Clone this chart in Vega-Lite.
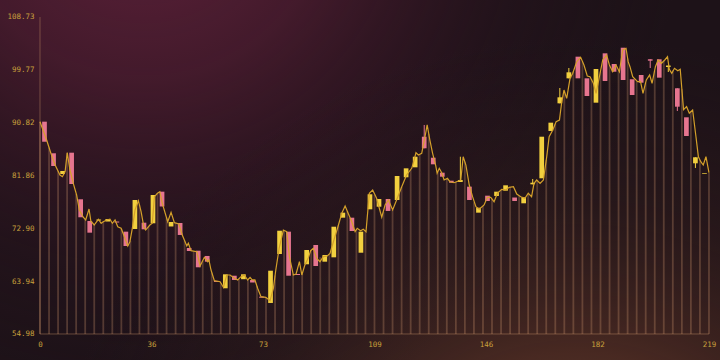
{
  "$schema": "https://vega.github.io/schema/vega-lite/v6.json",
  "width": 720,
  "height": 360,
  "padding": 0,
  "autosize": {"type": "none"},
  "background": "#1d1218",
  "config": {
    "view": {"stroke": null},
    "axis": {"labelColor": "#c8a03c", "labelFont": "DejaVu Sans Mono", "labelFontSize": 7.5, "domain": false, "ticks": false, "grid": false, "labelFlush": false, "labelOverlap": false, "labelPadding": 6, "zindex": 5}
  },
  "datasets": {
    "line": [
      {"i":0,"v":90.98},{"i":2.2,"v":87.87},{"i":3.6,"v":85.62},{"i":5.0,"v":83.63},{"i":6.6,"v":81.94},{"i":7.4,"v":81.65},{"i":8.3,"v":82.5},{"i":9.0,"v":85.72},{"i":9.9,"v":82.79},{"i":11.0,"v":80.53},{"i":12.1,"v":78.55},{"i":13.0,"v":76.0},{"i":14.3,"v":74.77},{"i":15.1,"v":74.31},{"i":16.2,"v":76.17},{"i":16.8,"v":74.14},{"i":17.9,"v":73.46},{"i":19.3,"v":74.43},{"i":20.2,"v":73.75},{"i":20.9,"v":74.02},{"i":22.0,"v":74.31},{"i":23.1,"v":74.43},{"i":23.9,"v":73.75},{"i":24.8,"v":74.31},{"i":25.7,"v":73.17},{"i":26.8,"v":72.9},{"i":27.8,"v":71.6},{"i":29.0,"v":69.9},{"i":29.7,"v":70.63},{"i":30.5,"v":72.9},{"i":31.4,"v":76.0},{"i":32.5,"v":77.58},{"i":33.4,"v":75.72},{"i":34.3,"v":73.17},{"i":34.9,"v":72.61},{"i":36.3,"v":73.46},{"i":37.1,"v":73.75},{"i":37.8,"v":78.26},{"i":38.8,"v":78.84},{"i":39.6,"v":79.11},{"i":40.4,"v":77.14},{"i":42.2,"v":74.02},{"i":43.3,"v":75.61},{"i":44.4,"v":73.85},{"i":45.9,"v":73.63},{"i":47.0,"v":71.77},{"i":48.5,"v":69.9},{"i":49.0,"v":70.36},{"i":49.9,"v":69.1},{"i":51.8,"v":68.93},{"i":52.9,"v":66.51},{"i":54.3,"v":67.98},{"i":55.4,"v":67.24},{"i":55.8,"v":67.53},{"i":56.5,"v":65.83},{"i":57.6,"v":64.02},{"i":59.5,"v":63.85},{"i":60.6,"v":62.9},{"i":61.7,"v":64.98},{"i":62.8,"v":64.98},{"i":64.2,"v":64.42},{"i":65.3,"v":64.14},{"i":66.4,"v":64.7},{"i":67.5,"v":64.98},{"i":68.6,"v":64.14},{"i":69.4,"v":64.59},{"i":70.1,"v":64.14},{"i":71.0,"v":64.14},{"i":71.9,"v":62.73},{"i":73.0,"v":61.3},{"i":74.6,"v":61.2},{"i":76.0,"v":60.63},{"i":77.1,"v":62.73},{"i":77.9,"v":65.83},{"i":79.0,"v":69.51},{"i":80.4,"v":72.61},{"i":81.5,"v":72.33},{"i":82.4,"v":68.09},{"i":83.7,"v":64.98},{"i":84.6,"v":65.15},{"i":85.7,"v":67.24},{"i":86.5,"v":64.98},{"i":87.5,"v":66.68},{"i":88.6,"v":67.81},{"i":89.4,"v":69.1},{"i":90.3,"v":69.51},{"i":91.4,"v":67.81},{"i":92.5,"v":67.24},{"i":93.6,"v":68.09},{"i":94.9,"v":68.2},{"i":95.8,"v":68.66},{"i":97.1,"v":70.92},{"i":98.5,"v":73.29},{"i":99.7,"v":75.44},{"i":100.8,"v":76.68},{"i":101.8,"v":75.44},{"i":103.0,"v":74.02},{"i":104.1,"v":72.33},{"i":104.8,"v":72.9},{"i":105.9,"v":72.49},{"i":106.8,"v":72.73},{"i":107.7,"v":72.33},{"i":108.8,"v":78.84},{"i":109.9,"v":79.4},{"i":111.2,"v":77.99},{"i":112.9,"v":74.77},{"i":114.0,"v":76.85},{"i":115.1,"v":77.7},{"i":116.5,"v":76.0},{"i":117.8,"v":77.7},{"i":119.5,"v":79.95},{"i":121.1,"v":81.94},{"i":122.8,"v":83.07},{"i":123.6,"v":84.48},{"i":124.2,"v":85.72},{"i":125.0,"v":85.33},{"i":126.1,"v":85.62},{"i":127.2,"v":88.43},{"i":127.9,"v":90.42},{"i":128.8,"v":87.87},{"i":129.7,"v":85.62},{"i":130.7,"v":83.63},{"i":131.2,"v":82.23},{"i":131.9,"v":83.07},{"i":132.7,"v":82.33},{"i":133.5,"v":81.09},{"i":134.6,"v":81.38},{"i":135.4,"v":80.8},{"i":136.8,"v":80.63},{"i":137.6,"v":80.8},{"i":139.0,"v":81.09},{"i":139.8,"v":85.04},{"i":140.7,"v":83.63},{"i":141.8,"v":80.24},{"i":142.9,"v":78.26},{"i":144.0,"v":76.56},{"i":145.1,"v":76.12},{"i":146.7,"v":76.85},{"i":147.8,"v":78.16},{"i":148.9,"v":78.16},{"i":150.0,"v":77.41},{"i":151.1,"v":78.84},{"i":152.5,"v":79.51},{"i":153.9,"v":79.4},{"i":155.0,"v":79.85},{"i":156.4,"v":79.95},{"i":157.5,"v":78.72},{"i":158.8,"v":78.26},{"i":160.2,"v":77.99},{"i":161.3,"v":78.84},{"i":162.4,"v":78.26},{"i":163.2,"v":80.53},{"i":164.1,"v":81.09},{"i":165.2,"v":80.53},{"i":166.3,"v":81.09},{"i":167.4,"v":85.04},{"i":168.2,"v":88.43},{"i":169.4,"v":89.57},{"i":170.5,"v":90.98},{"i":171.6,"v":91.26},{"i":172.3,"v":94.1},{"i":173.1,"v":96.35},{"i":174.0,"v":94.94},{"i":175.1,"v":98.33},{"i":176.0,"v":99.18},{"i":177.3,"v":101.15},{"i":178.6,"v":101.89},{"i":179.7,"v":100.59},{"i":180.8,"v":98.72},{"i":181.7,"v":98.61},{"i":182.8,"v":97.49},{"i":183.7,"v":95.79},{"i":184.8,"v":98.61},{"i":185.9,"v":101.44},{"i":187.2,"v":102.28},{"i":188.1,"v":100.59},{"i":189.2,"v":99.45},{"i":190.3,"v":100.59},{"i":191.4,"v":99.45},{"i":192.5,"v":103.13},{"i":193.6,"v":103.42},{"i":194.3,"v":101.15},{"i":194.9,"v":100.3},{"i":195.8,"v":98.61},{"i":197.4,"v":97.76},{"i":198.4,"v":97.76},{"i":199.2,"v":95.79},{"i":200.3,"v":98.05},{"i":201.4,"v":98.89},{"i":202.2,"v":97.49},{"i":203.3,"v":100.3},{"i":204.2,"v":101.44},{"i":205.3,"v":100.88},{"i":206.4,"v":101.44},{"i":207.3,"v":102.0},{"i":207.9,"v":99.86},{"i":208.7,"v":99.18},{"i":209.6,"v":100.03},{"i":210.7,"v":99.62},{"i":211.5,"v":99.86},{"i":212.6,"v":93.0},{"i":213.6,"v":93.52},{"i":214.5,"v":92.4},{"i":215.6,"v":92.96},{"i":216.7,"v":88.43},{"i":217.5,"v":85.04},{"i":218.3,"v":84.19},{"i":219.1,"v":83.63},{"i":220.0,"v":85.04},{"i":221.0,"v":82.33}
    ],
    "candles": [
      {"x":1.49,"o":90.98,"c":87.58},{"x":4.48,"o":85.62,"c":83.46},{"x":7.47,"o":82.11,"c":82.62},{"x":10.45,"o":85.72,"c":80.41},{"x":13.44,"o":77.82,"c":74.77},{"x":16.43,"o":74.14,"c":72.16},{"x":19.41,"o":74.22,"c":74.39},{"x":22.4,"o":74.05,"c":74.48},{"x":25.39,"o":74.05,"c":73.88},{"x":28.37,"o":72.33,"c":69.9},{"x":31.36,"o":72.78,"c":77.7},{"x":34.35,"o":73.85,"c":72.73},{"x":37.33,"o":73.75,"c":78.55},{"x":40.32,"o":79.11,"c":76.6},{"x":43.3,"o":73.21,"c":73.97},{"x":46.29,"o":73.8,"c":71.77},{"x":49.28,"o":69.56,"c":69.05},{"x":52.26,"o":69.1,"c":66.29},{"x":55.25,"o":68.21,"c":67.24},{"x":58.24,"o":63.97,"c":63.8},{"x":61.22,"o":62.73,"c":65.1},{"x":64.21,"o":64.86,"c":64.14},{"x":67.2,"o":64.27,"c":65.1},{"x":70.18,"o":64.14,"c":63.71},{"x":73.17,"o":61.3,"c":61.13},{"x":76.16,"o":60.24,"c":65.71},{"x":79.14,"o":68.54,"c":72.49},{"x":82.13,"o":72.33,"c":64.86},{"x":85.12,"o":65.15,"c":64.98},{"x":88.1,"o":66.8,"c":69.22},{"x":91.09,"o":70.07,"c":66.51},{"x":94.08,"o":67.24,"c":68.37},{"x":97.06,"o":67.98,"c":73.17},{"x":100.05,"o":74.7,"c":75.55},{"x":103.04,"o":74.7,"c":72.44},{"x":106.02,"o":68.76,"c":72.33},{"x":109.01,"o":76.12,"c":78.67},{"x":111.99,"o":76.56,"c":77.87},{"x":114.98,"o":77.87,"c":75.84},{"x":117.97,"o":77.7,"c":81.77},{"x":120.95,"o":81.55,"c":83.07},{"x":123.94,"o":83.24,"c":85.04},{"x":126.93,"o":88.43,"c":86.47,"l":86.47,"h":90.42},{"x":129.91,"o":84.87,"c":83.75},{"x":132.9,"o":82.33,"c":81.65},{"x":135.89,"o":80.97,"c":80.63},{"x":138.87,"o":80.75,"c":81.09,"l":80.75,"h":85.04},{"x":141.86,"o":79.96,"c":77.7},{"x":144.85,"o":75.55,"c":76.39},{"x":147.83,"o":78.43,"c":77.53},{"x":150.82,"o":78.38,"c":79.11},{"x":153.81,"o":79.28,"c":80.19},{"x":156.79,"o":78.12,"c":77.53},{"x":159.78,"o":77.14,"c":78.16},{"x":162.77,"o":80.36,"c":80.63,"l":80.36,"h":81.26},{"x":165.75,"o":81.38,"c":88.43},{"x":168.74,"o":89.4,"c":90.81},{"x":171.73,"o":94.09,"c":95.11,"l":94.09,"h":96.69},{"x":174.71,"o":98.33,"c":99.35,"l":98.33,"h":100.08},{"x":177.7,"o":102.0,"c":98.33},{"x":180.68,"o":98.33,"c":95.33},{"x":183.67,"o":94.2,"c":99.91},{"x":186.66,"o":102.57,"c":97.88},{"x":189.64,"o":100.76,"c":99.45},{"x":192.63,"o":103.52,"c":98.05},{"x":195.62,"o":98.17,"c":95.5},{"x":198.6,"o":98.89,"c":97.59},{"x":201.59,"o":101.56,"c":101.32,"l":100.08,"h":101.56},{"x":204.58,"o":101.56,"c":98.44},{"x":207.56,"o":100.25,"c":100.5,"l":99.4,"h":100.5},{"x":210.55,"o":96.64,"c":93.52,"l":92.79,"h":96.64},{"x":213.54,"o":91.72,"c":88.55},{"x":216.52,"o":83.92,"c":84.94,"l":83.13,"h":84.94},{"x":219.51,"o":82.11,"c":82.23}
    ],
    "bars": [
      {"x":0,"t":90.98},{"x":2.99,"t":86.6},{"x":5.97,"t":82.6},{"x":8.96,"t":85.72},{"x":11.95,"t":78.7},{"x":14.93,"t":74.4},{"x":17.92,"t":73.46},{"x":20.91,"t":74.02},{"x":23.89,"t":73.75},{"x":26.88,"t":72.85},{"x":29.87,"t":70.8},{"x":32.85,"t":76.9},{"x":35.84,"t":73.2},{"x":38.82,"t":78.84},{"x":41.81,"t":74.7},{"x":44.8,"t":73.8},{"x":47.78,"t":70.8},{"x":50.77,"t":69.0},{"x":53.76,"t":67.4},{"x":56.74,"t":65.4},{"x":59.73,"t":63.6},{"x":62.72,"t":64.98},{"x":65.7,"t":64.3},{"x":68.69,"t":64.2},{"x":71.68,"t":63.1},{"x":74.66,"t":61.2},{"x":77.65,"t":64.9},{"x":80.64,"t":72.5},{"x":83.62,"t":65.2},{"x":86.61,"t":65.2},{"x":89.59,"t":69.2},{"x":92.58,"t":68.0},{"x":95.57,"t":68.5},{"x":98.55,"t":73.4},{"x":101.54,"t":75.8},{"x":104.53,"t":72.7},{"x":107.51,"t":72.4},{"x":110.5,"t":78.6},{"x":113.49,"t":75.7},{"x":116.47,"t":76.0},{"x":119.46,"t":79.9},{"x":122.45,"t":82.8},{"x":125.43,"t":85.4},{"x":128.42,"t":88.9},{"x":131.4,"t":82.6},{"x":134.39,"t":81.3},{"x":137.38,"t":80.75},{"x":140.36,"t":84.2},{"x":143.35,"t":77.3},{"x":146.34,"t":76.7},{"x":149.32,"t":77.9},{"x":152.31,"t":79.4},{"x":155.3,"t":79.9},{"x":158.28,"t":78.4},{"x":161.27,"t":78.7},{"x":164.25,"t":81.0},{"x":167.24,"t":84.5},{"x":170.23,"t":90.6},{"x":173.21,"t":96.2},{"x":176.2,"t":99.5},{"x":179.19,"t":101.2},{"x":182.17,"t":98.2},{"x":185.16,"t":99.5},{"x":188.15,"t":100.5},{"x":191.13,"t":99.7},{"x":194.12,"t":101.7},{"x":197.11,"t":97.8},{"x":200.09,"t":97.6},{"x":203.08,"t":99.6},{"x":206.06,"t":101.3},{"x":209.05,"t":99.7},{"x":212.04,"t":96.5},{"x":215.02,"t":92.8},{"x":218.01,"t":84.5},{"x":221.0,"t":82.33}
    ]
  },
  "layer": [
    {
      "data": {"values": [{"a": 1}]},
      "mark": {"type": "rect", "fill": {"gradient": "radial", "x1": 0.2, "y1": 0.1, "r1": 0, "x2": 0.2, "y2": 0.1, "r2": 0.75, "stops": [{"offset": 0, "color": "rgba(98,34,60,1)"}, {"offset": 0.35, "color": "rgba(76,28,48,0.8)"}, {"offset": 0.7, "color": "rgba(44,20,32,0.35)"}, {"offset": 1, "color": "rgba(29,18,24,0)"}]}, "strokeWidth": 0},
      "encoding": {
        "x": {"datum": -13.21, "type": "quantitative", "scale": {"domain": [-13.21, 224.64], "nice": false, "zero": false, "padding": 0}, "axis": {"title": null}},
        "x2": {"datum": 224.64},
        "y": {"datum": 50.57, "type": "quantitative", "scale": {"domain": [50.57, 111.61], "nice": false, "zero": false, "padding": 0}, "axis": {"title": null}},
        "y2": {"datum": 111.61}
      }
    },
    {
      "data": {"values": [{"a": 1}]},
      "mark": {"type": "rect", "fill": {"gradient": "radial", "x1": 0.8, "y1": 1.05, "r1": 0, "x2": 0.8, "y2": 1.05, "r2": 0.75, "stops": [{"offset": 0, "color": "rgba(130,74,48,1)"}, {"offset": 0.35, "color": "rgba(100,56,40,0.75)"}, {"offset": 0.7, "color": "rgba(60,34,30,0.3)"}, {"offset": 1, "color": "rgba(40,22,26,0)"}]}, "strokeWidth": 0},
      "encoding": {
        "x": {"datum": -13.21, "type": "quantitative", "axis": {"title": null}},
        "x2": {"datum": 224.64},
        "y": {"datum": 50.57, "type": "quantitative", "axis": {"title": null}},
        "y2": {"datum": 111.61}
      }
    },
    {
      "data": {"name": "bars"},
      "mark": {"type": "rule", "color": "rgba(205,150,108,0.3)", "strokeWidth": 1.8},
      "encoding": {
        "x": {"field": "x", "type": "quantitative", "axis": {"title": null}},
        "y": {"field": "t", "type": "quantitative", "axis": {"title": null}},
        "y2": {"datum": 54.98}
      }
    },
    {
      "data": {"values": [{"a": 1}]},
      "mark": {"type": "rule", "color": "rgba(190,140,100,0.45)", "strokeWidth": 1},
      "encoding": {
        "x": {"datum": 0, "type": "quantitative", "axis": {"title": null}},
        "y": {"datum": 54.98, "type": "quantitative", "axis": {"title": null}},
        "y2": {"datum": 108.73}
      }
    },
    {
      "data": {"values": [{"a": 1}]},
      "mark": {"type": "rule", "color": "rgba(190,140,100,0.45)", "strokeWidth": 1},
      "encoding": {
        "x": {"datum": 0, "type": "quantitative", "axis": {"title": null}},
        "x2": {"datum": 221},
        "y": {"datum": 54.98, "type": "quantitative", "axis": {"title": null}}
      }
    },
    {
      "data": {"name": "candles"},
      "transform": [{"filter": "isValid(datum.h)"}],
      "mark": {"type": "rule", "strokeWidth": 1},
      "encoding": {
        "x": {"field": "x", "type": "quantitative", "axis": {"title": null}},
        "y": {"field": "l", "type": "quantitative", "axis": {"title": null}},
        "y2": {"field": "h"},
        "color": {"condition": {"test": "datum.c >= datum.o", "value": "#f2d03f"}, "value": "#e6758f"}
      }
    },
    {
      "data": {"name": "candles"},
      "mark": {"type": "bar", "orient": "vertical", "width": 4.7},
      "encoding": {
        "x": {"field": "x", "type": "quantitative", "axis": {"title": null}},
        "y": {"field": "o", "type": "quantitative", "axis": {"title": null}},
        "y2": {"field": "c"},
        "color": {"condition": {"test": "datum.c >= datum.o", "value": "#f2d03f"}, "value": "#e6758f"}
      }
    },
    {
      "data": {"name": "line"},
      "mark": {"type": "line", "color": "#d4a02a", "strokeWidth": 1.2},
      "encoding": {
        "x": {"field": "i", "type": "quantitative", "scale": {"domain": [-13.21, 224.64], "nice": false, "zero": false, "padding": 0}, "axis": {"orient": "bottom", "offset": -26, "zindex": 5, "title": null, "values": [0, 36.833, 73.667, 110.5, 147.333, 184.167, 221], "labelExpr": "['0','36','73','109','146','182','219'][round(datum.value*6/221)]"}},
        "y": {"field": "v", "type": "quantitative", "scale": {"domain": [50.57, 111.61], "nice": false, "zero": false, "padding": 0}, "axis": {"orient": "left", "offset": -40, "zindex": 5, "title": null, "values": [54.98, 63.94, 72.9, 81.86, 90.82, 99.77, 108.73], "format": ".2f"}}
      }
    }
  ]
}
